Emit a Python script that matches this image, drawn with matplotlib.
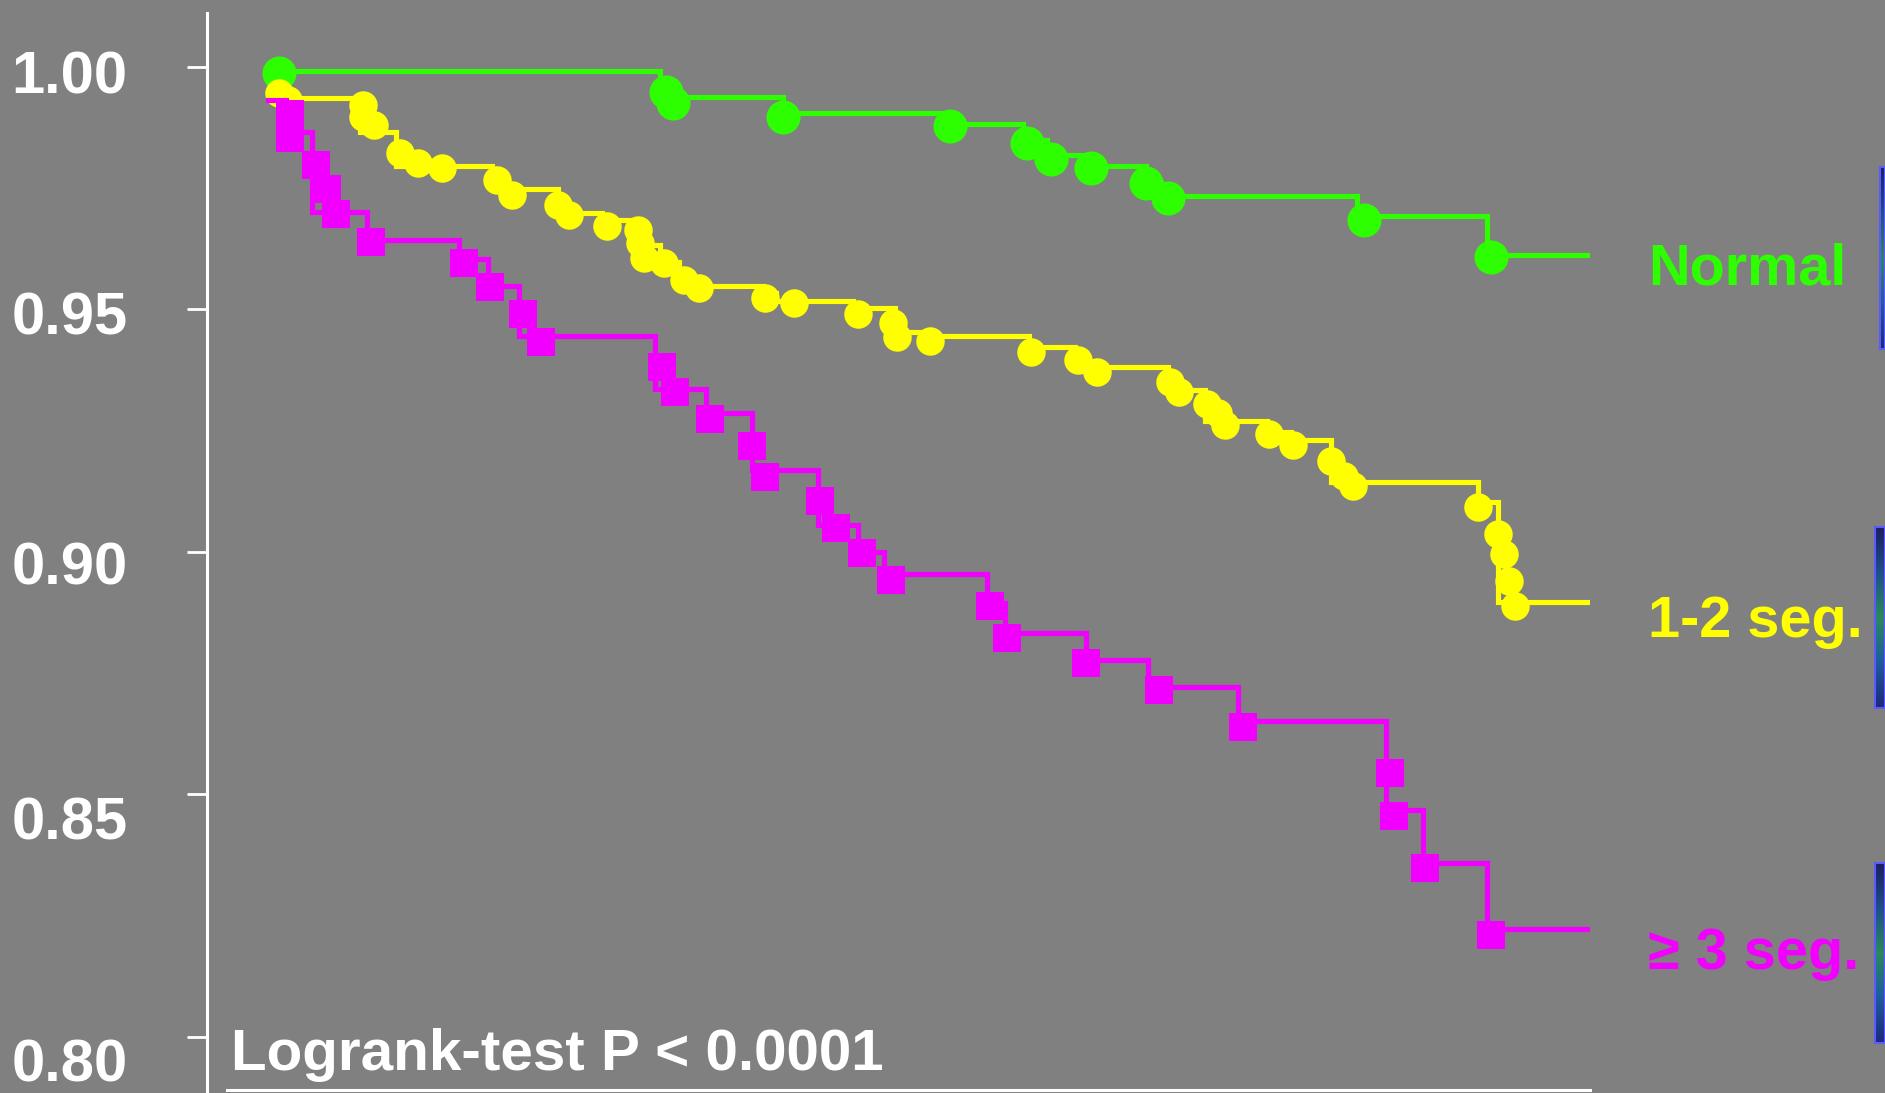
#!/usr/bin/env python3
"""Kaplan-Meier style survival curves by number of abnormal segments."""
import matplotlib.pyplot as plt
import numpy as np
from matplotlib.colors import LinearSegmentedColormap

BG = "#808080"
WHITE = "#ffffff"
GREEN = "#2eff00"
YELLOW = "#ffff00"
MAGENTA = "#f200ff"

# step curves: time (months) where a level starts, and the survival level
NORMAL_T = [0, 17.8, 23.4, 31.1, 34.3, 35.4, 37.4, 39.9, 40.6, 49.5, 55.4, 60.0]
NORMAL_S = [0.9992, 0.9938, 0.9905, 0.9882, 0.9849, 0.9819, 0.9796, 0.9763,
            0.9734, 0.9693, 0.9612, 0.9612]
NORMAL_MT = [0.5, 18.1, 18.4, 23.4, 31.0, 34.5, 35.6, 37.4, 39.9, 40.9, 49.8, 55.6]
NORMAL_MS = [0.9988, 0.9948, 0.9926, 0.9897, 0.9878, 0.9843, 0.9810, 0.9792,
             0.9761, 0.9730, 0.9685, 0.9608]

SEG12_T = [0, 4.2, 5.8, 10.2, 13.2, 15.2, 16.8, 17.8, 18.7, 19.5, 22.5, 23.1,
           26.6, 28.5, 29.9, 34.6, 36.7, 40.9, 42.6, 45.4, 46.5, 48.3, 55.0,
           55.9, 60.0]
SEG12_S = [0.9936, 0.9866, 0.9796, 0.9749, 0.9699, 0.9685, 0.9633, 0.9598,
           0.9565, 0.9548, 0.9534, 0.9518, 0.9503, 0.9454, 0.9445, 0.9423,
           0.9381, 0.9334, 0.9270, 0.9247, 0.9231, 0.9144, 0.9103, 0.8897,
           0.8897]
SEG12_MT = [0.5, 0.9, 4.3, 4.3, 4.8, 6.0, 6.8, 7.9, 10.4, 11.1, 13.2, 13.7,
            15.4, 16.8, 16.9, 17.1, 18.0, 18.9, 19.6, 22.6, 23.9, 26.8, 28.4,
            28.6, 30.1, 34.7, 36.8, 37.7, 41.0, 41.4, 42.7, 43.2, 43.5, 45.5,
            46.6, 48.3, 48.9, 49.3, 55.0, 55.9, 56.2, 56.4, 56.7]
SEG12_MS = [0.9946, 0.9932, 0.9922, 0.9897, 0.9880, 0.9823, 0.9802, 0.9792,
            0.9767, 0.9736, 0.9715, 0.9695, 0.9672, 0.9664, 0.9637, 0.9606,
            0.9596, 0.9561, 0.9544, 0.9524, 0.9513, 0.9491, 0.9472, 0.9443,
            0.9435, 0.9412, 0.9396, 0.9371, 0.9351, 0.9330, 0.9305, 0.9287,
            0.9262, 0.9243, 0.9221, 0.9188, 0.9157, 0.9136, 0.9093, 0.9037,
            0.8996, 0.8940, 0.8889]

SEG3_T = [0, 0.8, 2.0, 4.5, 8.7, 10.0, 11.4, 17.6, 19.9, 22.0, 25.0, 26.8,
          28.0, 32.7, 33.5, 37.2, 40.0, 44.1, 50.8, 52.5, 55.4, 60.0]
SEG3_S = [0.9932, 0.9866, 0.9701, 0.9643, 0.9604, 0.9548, 0.9445, 0.9336,
          0.9287, 0.9169, 0.9056, 0.9000, 0.8955, 0.8895, 0.8833, 0.8777,
          0.8722, 0.8652, 0.8468, 0.8359, 0.8223, 0.8223]
SEG3_MT = [1.0, 1.0, 2.2, 2.7, 3.1, 4.7, 8.9, 10.1, 11.6, 12.4, 17.9, 18.5,
           20.1, 22.0, 22.6, 25.1, 25.8, 27.0, 28.3, 32.8, 33.6, 37.2, 40.5,
           44.3, 51.0, 51.2, 52.6, 55.6]
SEG3_MS = [0.9903, 0.9854, 0.9798, 0.9748, 0.9697, 0.9639, 0.9596, 0.9546,
           0.9491, 0.9433, 0.9381, 0.9330, 0.9274, 0.9219, 0.9155, 0.9105,
           0.9049, 0.8998, 0.8942, 0.8889, 0.8823, 0.8771, 0.8715, 0.8639,
           0.8544, 0.8456, 0.8348, 0.8210]

GROUPS = ["Normal", "1-2 seg.", "\u2265 3 seg."]
Y_TICKS = [0.80, 0.85, 0.90, 0.95, 1.00]
Y_LABELS = ["0.80", "0.85", "0.90", "0.95", "1.00"]
PVALUE_TEXT = "Logrank-test P < 0.0001"

plt.rcParams["font.family"] = ["Liberation Sans", "DejaVu Sans"]
plt.rcParams["font.weight"] = "bold"

W, H = 1885, 1093
fig = plt.figure(figsize=(W / 100, H / 100), dpi=100, facecolor=BG)
ax = fig.add_axes([207 / W, 0, 1383 / W, 1080 / H])
ax.set_facecolor(BG)
ax.set_xlim(-2.77, 60.09)
ax.set_ylim(0.78845, 1.01113)

series = [
    (NORMAL_T, NORMAL_S, NORMAL_MT, NORMAL_MS, GREEN, "o", 24.5),
    (SEG12_T, SEG12_S, SEG12_MT, SEG12_MS, YELLOW, "o", 20.5),
    (SEG3_T, SEG3_S, SEG3_MT, SEG3_MS, MAGENTA, "s", 19.5),
]
for t, s, mt, ms, color, marker, msize in series:
    ax.plot(t, s, drawstyle="steps-post", color=color, lw=3.7,
            solid_joinstyle="miter")
    ax.plot(mt, ms, linestyle="none", marker=marker, markersize=msize,
            color=color, markeredgewidth=0)

# group names to the right of each curve's last level
drops = [21, 25, 29]
for (t, s, _mt, _ms, color, *_), name, drop in zip(series, GROUPS, drops):
    ax.annotate(name, xy=(t[-1], s[-1]), xytext=(43, -drop),
                textcoords="offset points", ha="left", va="baseline",
                color=color, fontsize=41.5, fontweight="bold",
                annotation_clip=False)

ax.text(-1.68, 0.7932, PVALUE_TEXT, color=WHITE, fontsize=42,
        fontweight="bold", ha="left", va="baseline")

# axes
for side in ("top", "right"):
    ax.spines[side].set_visible(False)
ax.spines["left"].set_color(WHITE)
ax.spines["left"].set_linewidth(2.2)
ax.spines["bottom"].set_color(WHITE)
ax.spines["bottom"].set_linewidth(2.2)
ax.spines["bottom"].set_position(("data", 0.7891))
ax.spines["bottom"].set_bounds(-1.86, 60.09)
ax.set_xticks([])
ax.set_yticks(Y_TICKS)
ax.tick_params(axis="y", direction="out", length=14.4, width=2,
               color=WHITE, labelleft=False)

label_drop = [21, 21, 12, 7, 8]
for v, lbl, d in zip(Y_TICKS, Y_LABELS, label_drop):
    ax.annotate(lbl, xy=(0, v), xycoords=("axes fraction", "data"),
                xytext=(-57, -d), textcoords="offset points",
                ha="right", va="center", color=WHITE, fontsize=43,
                fontweight="bold", annotation_clip=False)

# image strips cut off at the right edge of the slide
strip_cmap = LinearSegmentedColormap.from_list(
    "strip", ["#1b2060", "#1f4f8a", "#2a8a5a", "#1f5aa0", "#1c2a7a"])
for x0, y0, w, h in [(1880, 167, 5, 182), (1875, 527, 10, 181),
                     (1875, 863, 10, 180)]:
    sax = fig.add_axes([x0 / W, 1 - (y0 + h) / H, w / W, h / H])
    sax.imshow(np.linspace(0, 1, 64).reshape(-1, 1), cmap=strip_cmap,
               aspect="auto")
    sax.set_xticks([])
    sax.set_yticks([])
    for sp in sax.spines.values():
        sp.set_color("#5a5aff")
        sp.set_linewidth(1.5)

fig.savefig("out.png", dpi=100, facecolor=BG)
